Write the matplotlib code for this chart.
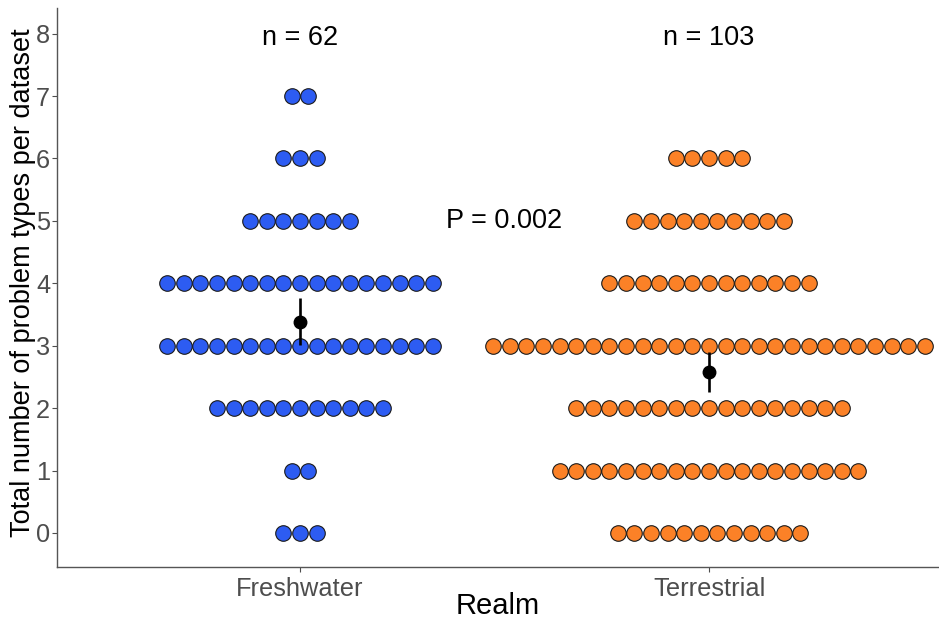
import numpy as np
import matplotlib
matplotlib.use("Agg")
import matplotlib.pyplot as plt

plt.rcParams['font.family'] = ['Liberation Sans', 'DejaVu Sans']

# dot counts per score
scores = [0, 1, 2, 3, 4, 5, 6, 7]
realms = ["Freshwater", "Terrestrial"]
fresh_counts = [3, 2, 11, 17, 17, 7, 3, 2]
terr_counts = [12, 19, 17, 27, 13, 10, 5, 0]
colors = ["#2D5CF2", "#FB8127"]
p_label = "P = 0.002"

W, H = 939, 624
fig = plt.figure(figsize=(W / 100, H / 100), dpi=100)
ax = fig.add_axes([57 / W, (H - 567) / H, (939 - 57) / W, (567 - 8) / H])
ax.set_xlim(0.406, 2.562)
ax.set_ylim(-0.545, 8.41)

# dot spacing in data units (one dot diameter, ~16.6 px)
px_per_x = (939 - 57) / (2.562 - 0.406)
dx = 16.6 / px_per_x

for i, (counts, col) in enumerate(zip([fresh_counts, terr_counts], colors)):
    xc = i + 1
    values = []
    for s, n in zip(scores, counts):
        if n == 0:
            continue
        xs = xc + (np.arange(n) - (n - 1) / 2) * dx
        ax.scatter(xs, [s] * n, s=11.2 ** 2, color=col, edgecolor="#1a1a1a",
                   linewidth=0.8, zorder=2)
        values += [s] * n
    values = np.array(values)
    m = values.mean()
    ci = 1.96 * values.std(ddof=1) / np.sqrt(len(values))
    ax.errorbar(xc, m, yerr=ci, fmt="o", color="black", ms=9, elinewidth=1.9,
                capsize=0, zorder=4)
    ax.text(xc, 7.93, f"n = {len(values)}", ha="center", va="center", fontsize=19.5)

ax.text(1.5, 5, p_label, ha="center", va="center", fontsize=19.5)

ax.set_xticks([1, 2])
ax.set_xticklabels(realms)
ax.set_yticks(range(0, 9))
ax.tick_params(colors="#4D4D4D", labelsize=18.3, length=3.5, width=0.8)
ax.tick_params(axis="y", pad=1.5)
ax.set_xlabel("Realm", fontsize=21, va="center")
ax.xaxis.set_label_coords(0.5, (567 - 606) / 559)
ax.set_ylabel("Total number of problem types per dataset", fontsize=19.5, va="center")
ax.yaxis.set_label_coords((23 - 57) / 882, 0.509)

for side in ["top", "right"]:
    ax.spines[side].set_visible(False)
for side in ["left", "bottom"]:
    ax.spines[side].set_color("#555555")
    ax.spines[side].set_linewidth(1.0)

fig.savefig("out.png", dpi=100)
